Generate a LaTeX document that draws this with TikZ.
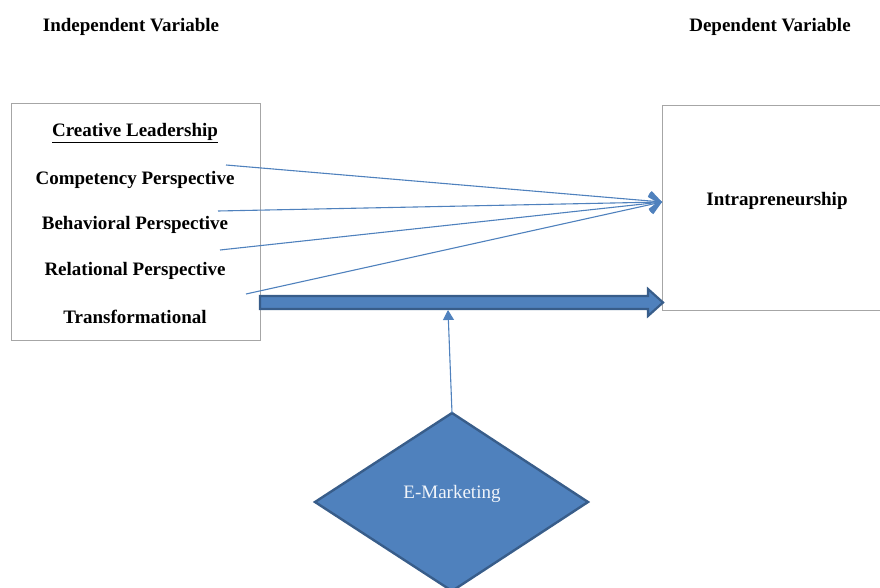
\documentclass[tikz,border=0pt]{standalone}
\usepackage{fontspec}
\setmainfont{Liberation Serif}
\usetikzlibrary{shapes.geometric,arrows.meta}
\definecolor{accent}{HTML}{4F81BD}
\definecolor{accentdark}{HTML}{385D8A}
\definecolor{boxgray}{HTML}{A6A6A6}
\tikzset{
  lbl/.style={font=\fontsize{19}{21}\selectfont\bfseries, inner sep=0pt, anchor=center},
  thin/.style={draw=accent, line width=1.1pt, -{Straight Barb[length=10pt,width=18pt,line width=2.6pt]}},
}
\begin{document}
\begin{tikzpicture}[x=1pt,y=-1pt]
\useasboundingbox (0,0) rectangle (880,588);
% headers
\node[lbl] (iv) at (131,27) {Independent Variable};
\node[lbl] (dv) at (770,27) {Dependent Variable};
% left box
\draw[boxgray, line width=0.8pt] (11,103) rectangle (260,340);
\node[lbl] (cl) at (135,133) {\underline{Creative Leadership}};
\node[lbl] (cp) at (135,180) {Competency Perspective};
\node[lbl] (bp) at (135,225) {Behavioral Perspective};
\node[lbl] (rp) at (135,271) {Relational Perspective};
\node[lbl] (tf) at (135,317) {Transformational};
% right box
\draw[boxgray, line width=0.8pt] (880,105) -- (662,105) -- (662,310) -- (880,310);
\node[lbl] (in) at (777,201) {Intrapreneurship};
\coordinate (tip) at (662,202);
\coordinate (s1) at (226,165);
\coordinate (s2) at (218,211);
\coordinate (s3) at (220,250);
\coordinate (s4) at (246,294);
\draw[thin] (s1) -- (tip);
\draw[thin] (s2) -- (tip);
\draw[thin] (s3) -- (tip);
\draw[thin] (s4) -- (tip);
% thick block arrow
\draw[fill=accent, draw=accentdark, line width=2.2pt, line join=miter]
  (260,296) -- (648,296) -- (648,289) -- (663,302.5) -- (648,316) -- (648,309) -- (260,309) -- cycle;
% diamond
\draw[fill=accent, draw=accentdark, line width=2.4pt, line join=miter]
  (452,413) -- (588,502) -- (452,591) -- (315,502) -- cycle;
\node[font=\fontsize{19}{21}\selectfont, text=white!92!accent, inner sep=0pt] (em) at (452,494) {E-Marketing};
\coordinate (dtop) at (452,413);
\coordinate (mtip) at (448,310);
\draw[draw=accent, line width=1.1pt, -{Triangle[length=10pt,width=11pt]}] (dtop) -- (mtip);
\end{tikzpicture}
\end{document}
